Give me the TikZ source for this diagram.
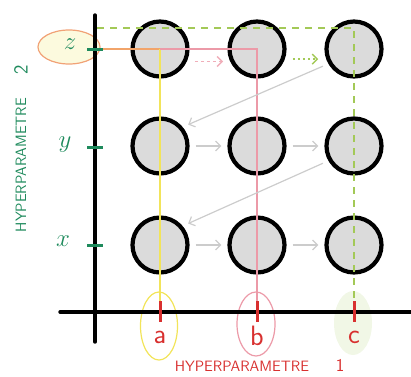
\documentclass[tikz,border=0pt]{standalone}
\usepackage{tikz}
\usetikzlibrary{arrows.meta, positioning, shapes.geometric}
\definecolor{hpGreen}{HTML}{1E8A5C}
\definecolor{hpRed}{HTML}{D8302F}
\definecolor{hpYellow}{HTML}{F2E45A}
\definecolor{hpPink}{HTML}{EC9AA8}
\definecolor{hpOrange}{HTML}{F2A46A}
\definecolor{hpLime}{HTML}{A3C957}

\begin{document}
\begin{tikzpicture}[x=1pt, y=-1pt,
    cell/.style={circle, draw=black, line width=4.2pt, fill=black!14, minimum size=55pt, inner sep=0pt},
    hint/.style={draw=black!20, line width=1.2pt, -{Straight Barb[length=5pt, width=10pt]}, shorten >=6pt, shorten <=6pt},
    trace/.style={line width=1.4pt},
    axis/.style={line width=3.4pt, line cap=round},
    hptext/.style={font=\fontsize{15}{17}\selectfont\sffamily},
    letter/.style={font=\fontsize{28}{28}\selectfont\sffamily},
    value/.style={hpGreen, font=\fontsize{32}{32}\selectfont},
  ]
  \useasboundingbox (0,0) rectangle (411,376);

  % highlights behind the axes
  \node[ellipse, draw=hpOrange!80!hpPink, line width=1.2pt, fill=hpYellow!20, minimum width=62pt, minimum height=34pt] (zring) at (69,47) {};
  \node[ellipse, draw=hpYellow, line width=1.2pt, minimum width=37pt, minimum height=68pt] (aring) at (159,326) {};
  \node[ellipse, draw=hpPink, line width=1.2pt, minimum width=38pt, minimum height=64pt] (bring) at (256,324) {};
  \node[ellipse, fill=hpLime!15, minimum width=38pt, minimum height=64pt] (cring) at (353,323) {};

  % axes
  \draw[axis] (95,15) -- (95,342);
  \draw[axis] (60,312) -- (414,312);

  \coordinate (tz) at (95,49);
  \coordinate (ty) at (95,147);
  \coordinate (tx) at (95,245);
  \coordinate (ta) at (160,312);
  \coordinate (tb) at (257,312);
  \coordinate (tc) at (354,312);
  \coordinate (gtop) at (97,28);

  % grid of trials
  \foreach \col/\xx in {a/160, b/257, c/354}
    \foreach \row/\yy in {z/49, y/146, x/245}
      \node[cell] (\col\row) at (\xx,\yy) {};

  % chosen values
  \draw[trace, hpOrange] (tz) -- (az.center);
  \draw[trace, hpYellow] (az.center) -- (ta);
  \draw[trace, hpPink] (az.center) -- (bz.center) -- (tb);
  \draw[trace, hpLime, dash pattern=on 7pt off 6pt] (gtop) -| (tc);

  % search order
  \draw[trace, hpPink!80, dash pattern=on 3pt off 3pt, -{Straight Barb[length=5pt, width=10pt]}, shorten <=8pt, shorten >=7pt] (az.-25) -- (bz.205);
  \draw[trace, hpLime, dash pattern=on 2pt off 3pt, -{Straight Barb[length=5pt, width=10pt]}, shorten <=8pt, shorten >=8pt] (bz.-20) -- (cz.200);
  \draw[hint] (ay) -- (by);
  \draw[hint] (by) -- (cy);
  \draw[hint] (ax) -- (bx);
  \draw[hint] (bx) -- (cx);
  \draw[hint] (cz.210) -- (ay.40);
  \draw[hint] (cy.210) -- (ax.40);

  % ticks
  \foreach \t in {tz, ty, tx}
    \draw[hpGreen, line width=3pt] (\t) ++(-8,0) -- ++(16,0);
  \foreach \t in {ta, tb, tc}
    \draw[hpRed, line width=3pt] (\t) ++(0,-11) -- ++(0,21);

  % labels
  \node[value] (lz) at (70,44) {$z$};
  \node[value] (ly) at (65,145) {$y$};
  \node[value] (lx) at (63,241) {$x$};
  \node[hpRed, letter] (la) at (160,337) {a};
  \node[hpRed, letter] (lb) at (257,336) {b};
  \node[hpRed, letter] (lc) at (354,337) {c};

  \node[hpRed, hptext] (hp1) at (242,366) {HYPERPARAMETRE};
  \node[hpRed, font=\fontsize{18}{18}\selectfont\sffamily] (one) at (340,365) {1};
  \node[hpGreen, hptext, rotate=90] (hp2) at (21,165) {HYPERPARAMETRE};
  \node[hpGreen, font=\fontsize{20}{20}\selectfont\sffamily, rotate=90] (two) at (21,70) {2};
\end{tikzpicture}
\end{document}
